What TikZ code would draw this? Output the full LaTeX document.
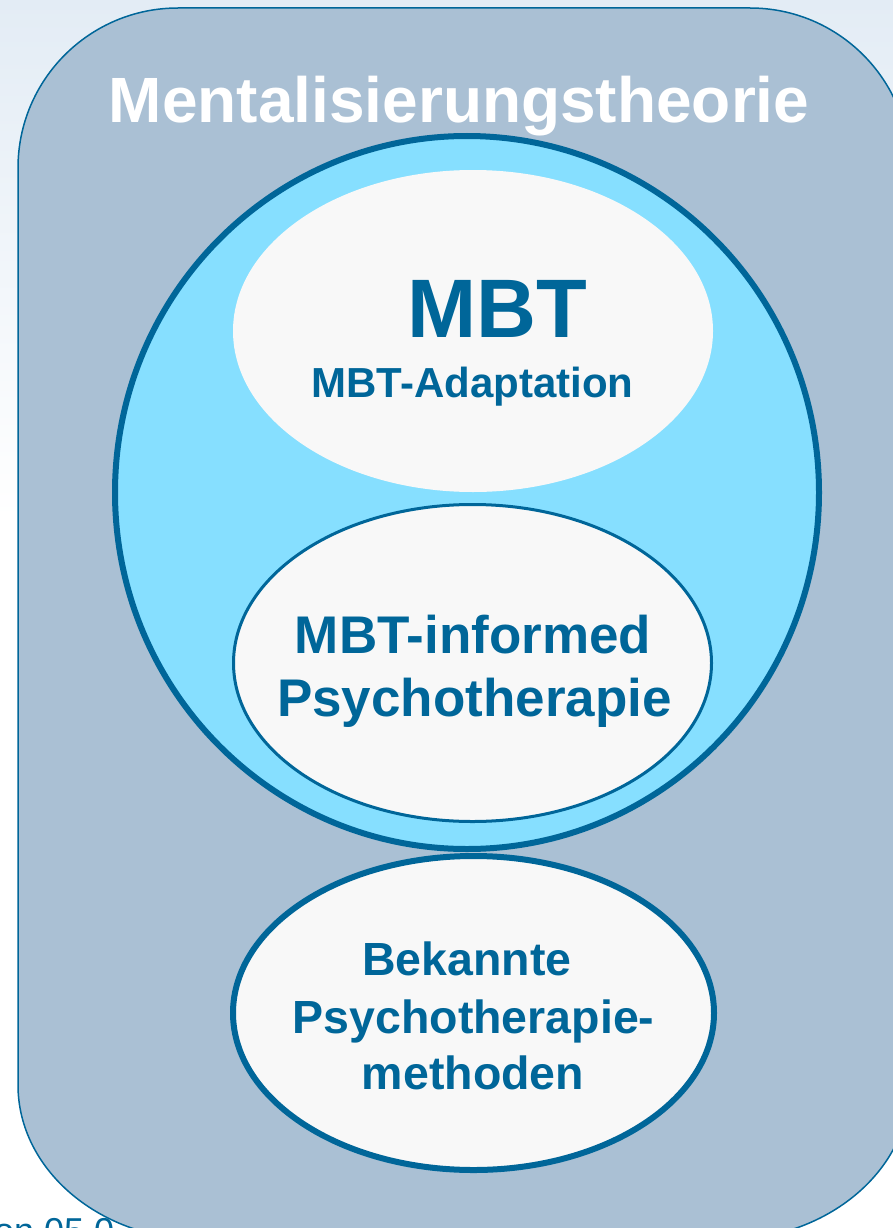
\documentclass[tikz,border=0pt]{standalone}
\usepackage{fontspec}
\setmainfont{Liberation Sans}
\usetikzlibrary{shapes.geometric}
\definecolor{mbtblue}{HTML}{006699}
\definecolor{panel}{HTML}{AAC0D4}
\definecolor{sky}{HTML}{86DFFF}
\definecolor{paper}{HTML}{F8F8F8}
\definecolor{bgtop}{HTML}{E3ECF5}
\newcommand{\pxfont}[1]{\fontsize{#1}{#1}\selectfont}
\tikzset{
  blob/.style={ellipse, draw=mbtblue, fill=paper, inner sep=0pt, outer sep=0pt},
  lbl/.style={anchor=base, text=mbtblue, font=\bfseries, inner sep=0pt},
}
\begin{document}
\begin{tikzpicture}[x=1pt, y=1pt]
\clip (0,0) rectangle (893,-1228);
\useasboundingbox (0,0) rectangle (893,-1228);
% background
\fill[white] (0,0) rectangle (893,-1228);
\shade[top color=bgtop, bottom color=white] (0,0) rectangle (893,-520);
% footer text partly hidden
\node[anchor=base west, inner sep=0pt, text=mbtblue, font=\pxfont{36}] (footer) at (-6,-1243) {on 05.0};
% outer panel
\path[draw=mbtblue, line width=1.5pt, fill=panel]
  (18,-168) arc[start angle=180, end angle=90, x radius=160, y radius=160]
  -- (750,-8) arc[start angle=90, end angle=0, x radius=160, y radius=160]
  -- (910,-1085) arc[start angle=0, end angle=-90, x radius=185, y radius=155]
  -- (203,-1240) arc[start angle=270, end angle=180, x radius=185, y radius=155]
  -- cycle;
% big circle
\node[ellipse, draw=mbtblue, fill=sky, line width=6pt, minimum width=704pt, minimum height=713pt, inner sep=0pt] (circle) at (467,-492.5) {};
% MBT ellipse
\node[ellipse, fill=paper, minimum width=480pt, minimum height=322pt, inner sep=0pt] (mbt) at (473,-331) {};
% informed ellipse
\node[blob, line width=3pt, minimum width=478pt, minimum height=317pt] (informed) at (472.5,-663) {};
% known methods ellipse
\node[blob, line width=6pt, minimum width=481pt, minimum height=314pt] (known) at (473.5,-1013) {};
% title
\node[anchor=base, inner sep=0pt, text=white, font=\bfseries\pxfont{64}] (title) at (459,-123) {Mentalisierungstheorie};
% labels
\node[lbl, font=\bfseries\pxfont{83}] (tmbt) at (497,-337) {MBT};
\node[lbl, font=\bfseries\pxfont{42}] (tadapt) at (472.5,-397) {MBT-Adaptation};
\node[lbl, font=\bfseries\pxfont{53}] (tinf1) at (473,-653) {MBT-informed};
\node[lbl, font=\bfseries\pxfont{53}] (tinf2) at (474.5,-716) {Psychotherapie};
\node[lbl, font=\bfseries\pxfont{46.5}] (tkn1) at (467,-975) {Bekannte};
\node[lbl, font=\bfseries\pxfont{46.5}] (tkn2) at (473.5,-1033) {Psychotherapie-};
\node[lbl, font=\bfseries\pxfont{46.5}] (tkn3) at (473,-1089) {methoden};
\end{tikzpicture}
\end{document}
